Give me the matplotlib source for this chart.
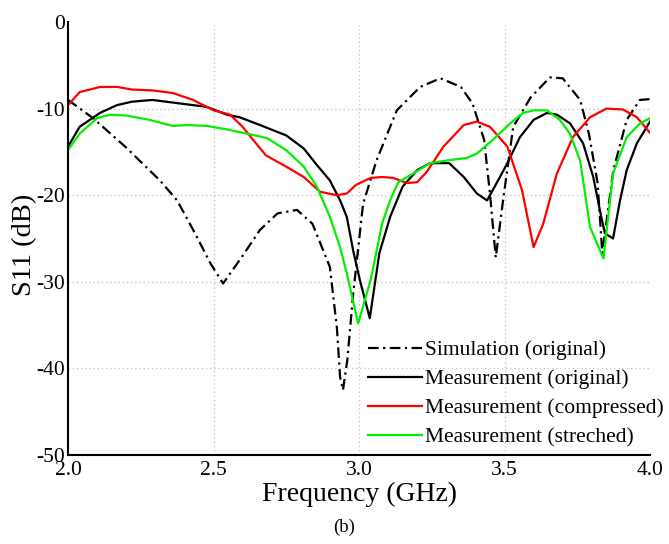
import numpy as np
import matplotlib
matplotlib.use('Agg')
import matplotlib.pyplot as plt

# (GHz, dB)
f_sim = [2.0, 2.086, 2.20, 2.316, 2.375, 2.43, 2.49, 2.533, 2.60, 2.66, 2.72, 2.787, 2.84, 2.90,
         2.924, 2.935, 2.945, 2.96, 2.98, 3.014, 3.06, 3.13, 3.21, 3.28, 3.35, 3.39, 3.43, 3.45,
         3.47, 3.495, 3.53, 3.59, 3.656, 3.70, 3.76, 3.79, 3.82, 3.836, 3.874, 3.92, 3.965, 4.0]
s_sim = [-9.0, -11.1, -14.5, -18.3, -20.6, -24.0, -27.9, -30.2, -27.0, -24.0, -22.1, -21.7, -23.3, -28.3,
         -35.3, -41.0, -42.5, -39.0, -31.4, -21.0, -16.0, -10.2, -7.5, -6.5, -7.5, -9.4, -13.6, -19.8,
         -27.2, -20.6, -12.1, -8.7, -6.4, -6.5, -9.0, -12.9, -18.6, -26.7, -17.1, -11.3, -9.0, -8.9]

f_orig = [2.0, 2.04, 2.11, 2.168, 2.22, 2.29, 2.36, 2.43, 2.477, 2.546, 2.59, 2.66, 2.75, 2.81, 2.855,
          2.90, 2.935, 2.958, 2.98, 3.003, 3.037, 3.07, 3.107, 3.15, 3.20, 3.244, 3.31, 3.36, 3.405,
          3.44, 3.46, 3.51, 3.553, 3.60, 3.646, 3.68, 3.725, 3.77, 3.805, 3.83, 3.845, 3.873, 3.897,
          3.92, 3.955, 4.0]
s_orig = [-14.4, -12.1, -10.5, -9.6, -9.2, -9.0, -9.3, -9.6, -9.8, -10.7, -11.0, -11.9, -13.1, -14.6, -16.5,
          -18.3, -20.6, -22.5, -26.4, -29.8, -34.2, -26.7, -22.5, -19.0, -17.1, -16.3, -16.3, -17.9, -19.8,
          -20.6, -19.4, -16.3, -13.3, -11.3, -10.5, -10.7, -11.7, -14.0, -17.9, -22.1, -24.4, -25.0, -20.6,
          -17.1, -14.0, -11.5]

f_comp = [2.0, 2.04, 2.11, 2.17, 2.22, 2.29, 2.36, 2.43, 2.50, 2.557, 2.60, 2.636, 2.68, 2.75, 2.81,
          2.866, 2.924, 2.958, 2.99, 3.04, 3.08, 3.117, 3.165, 3.20, 3.233, 3.29, 3.36, 3.405, 3.45,
          3.51, 3.56, 3.60, 3.633, 3.68, 3.735, 3.794, 3.85, 3.907, 3.955, 4.0]
s_comp = [-9.6, -8.1, -7.5, -7.5, -7.8, -7.9, -8.2, -9.0, -10.2, -10.7, -12.1, -13.6, -15.4, -16.7, -17.9,
          -19.6, -20.0, -19.8, -18.8, -18.0, -17.9, -18.0, -18.6, -18.5, -17.3, -14.4, -11.9, -11.5, -12.1,
          -14.4, -19.4, -26.0, -23.3, -17.5, -13.3, -11.0, -10.0, -10.1, -11.0, -12.8]

f_str = [2.0, 2.04, 2.10, 2.144, 2.20, 2.28, 2.36, 2.41, 2.477, 2.546, 2.615, 2.684, 2.75, 2.81, 2.855,
         2.90, 2.935, 2.958, 2.997, 3.04, 3.08, 3.107, 3.135, 3.186, 3.244, 3.30, 3.37, 3.405, 3.46,
         3.52, 3.564, 3.60, 3.646, 3.69, 3.725, 3.76, 3.794, 3.84, 3.873, 3.92, 3.966, 4.0]
s_str = [-14.8, -12.9, -11.1, -10.7, -10.8, -11.3, -12.0, -11.9, -12.0, -12.4, -12.9, -13.4, -14.8, -16.7, -19.0,
         -22.5, -26.0, -29.0, -34.8, -29.8, -23.2, -20.6, -18.5, -17.5, -16.3, -16.0, -15.7, -15.2, -13.6,
         -11.7, -10.5, -10.2, -10.2, -11.3, -12.9, -16.0, -23.7, -27.3, -17.5, -13.3, -11.7, -11.1]

labels = ['Simulation (original)', 'Measurement (original)',
          'Measurement (compressed)', 'Measurement (streched)']
xticks = [2.0, 2.5, 3.0, 3.5, 4.0]
yticks = [0, -10, -20, -30, -40, -50]

plt.rcParams['font.family'] = 'Liberation Serif'
plt.rcParams['axes.unicode_minus'] = False
fig = plt.figure(figsize=(6.69, 5.44), dpi=100)
ax = fig.add_axes([68/669, 1-455/544, 582/669, 433/544])

# dotted grid only on interior ticks
for x in xticks[1:-1]:
    ax.axvline(x, ymax=0.993, color='#c8c8c8', lw=1, ls=(0, (1, 2)), zorder=0)
for y in yticks[1:-1]:
    ax.axhline(y, color='#c8c8c8', lw=1, ls=(0, (1, 2)), zorder=0)

ax.plot(f_sim, s_sim, color='k', lw=1.6, ls=(0, (4.8, 2, 1, 2)), label=labels[0])
ax.plot(f_orig, s_orig, color='k', lw=1.6, label=labels[1])
ax.plot(f_comp, s_comp, color='#ff0000', lw=1.6, label=labels[2])
ax.plot(f_str, s_str, color='#00f000', lw=1.6, label=labels[3])

ax.set_xlim(2.0, 4.0)
ax.set_ylim(-50, 0)
ax.set_xticks(xticks)
ax.set_yticks(yticks)
ax.set_xticklabels(['%.1f' % v for v in xticks])
ax.tick_params(length=0, labelsize=15.5, pad=2)
ax.tick_params(axis='x', pad=4)
ax.spines['top'].set_visible(False)
ax.spines['right'].set_visible(False)
ax.spines['left'].set_linewidth(1.5)
ax.spines['bottom'].set_linewidth(1.5)

ax.set_xlabel('Frequency (GHz)', fontsize=20, labelpad=2)
ax.set_ylabel('S11 (dB)', fontsize=20.5)
ax.yaxis.set_label_coords(-0.053, 0.485)

ax.legend(loc='upper left', bbox_to_anchor=(368/669, 1-340/544), bbox_transform=fig.transFigure,
          frameon=False, fontsize=15.5, handlelength=2.5, handletextpad=0.15,
          labelspacing=0.42, borderpad=0, borderaxespad=0)

fig.text(344/669, 1-527/544, '(b)', fontsize=13.5, ha='center', va='center')

fig.savefig('out.png', dpi=100)
